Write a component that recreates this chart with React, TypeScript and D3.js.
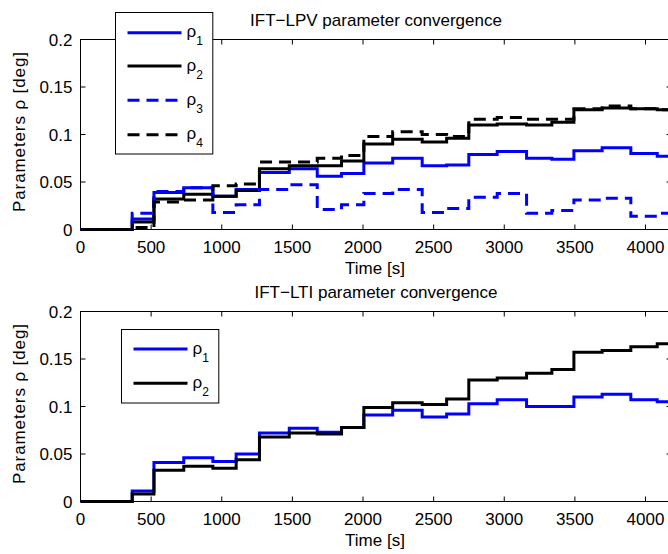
import React from "react";
import * as d3 from "d3";

// switching instants (s), shared by every parameter trace
const stepTimes = [0, 366, 520, 731, 937, 1102, 1267, 1478, 1676, 1848, 2006, 2210, 2419, 2592, 2749, 2950, 3158, 3337, 3493, 3693, 3896, 4083];
const tEnd = 4184;

// IFT-LPV traces
const lpvRho1 = [0, 0.011, 0.039, 0.044, 0.035, 0.042, 0.060, 0.064, 0.056, 0.059, 0.070, 0.075, 0.067, 0.068, 0.079, 0.082, 0.075, 0.074, 0.083, 0.086, 0.080, 0.077];
const lpvRho2 = [0, 0.008, 0.032, 0.037, 0.035, 0.041, 0.064, 0.067, 0.067, 0.072, 0.090, 0.095, 0.092, 0.096, 0.110, 0.111, 0.110, 0.113, 0.126, 0.128, 0.127, 0.126];
const lpvRho3 = [0, 0.017, 0.040, 0.044, 0.018, 0.026, 0.042, 0.047, 0.021, 0.026, 0.038, 0.042, 0.018, 0.022, 0.034, 0.038, 0.017, 0.020, 0.031, 0.033, 0.014, 0.017];
const lpvRho4 = [0, 0.002, 0.029, 0.031, 0.046, 0.048, 0.071, 0.071, 0.075, 0.078, 0.098, 0.103, 0.100, 0.098, 0.116, 0.118, 0.116, 0.116, 0.127, 0.130, 0.127, 0.126];

// IFT-LTI traces
const ltiRho1 = [0, 0.011, 0.041, 0.046, 0.042, 0.050, 0.072, 0.077, 0.073, 0.078, 0.091, 0.096, 0.089, 0.092, 0.103, 0.107, 0.100, 0.100, 0.110, 0.113, 0.107, 0.105];
const ltiRho2 = [0, 0.008, 0.033, 0.037, 0.035, 0.044, 0.068, 0.072, 0.071, 0.078, 0.099, 0.104, 0.102, 0.108, 0.128, 0.130, 0.135, 0.139, 0.157, 0.159, 0.163, 0.166];

const xTicks = [0, 500, 1000, 1500, 2000, 2500, 3000, 3500, 4000];
const yTicks = [0, 0.05, 0.1, 0.15, 0.2];
const yTickLabels = ["0", "0.05", "0.1", "0.15", "0.2"];

const font = "'Liberation Sans', Arial, Helvetica, sans-serif";
const BLUE = "#0000ff";
const LEFT = 80.5;
const RIGHT = 671.5;

const toPoints = (vals: number[]) => {
  const pts: [number, number][] = stepTimes.map((t, i) => [t, vals[i]]);
  pts.push([tEnd, vals[vals.length - 1]]);
  return pts;
};

const Panel = ({ top, bottom, title, series, legend }: any) => {
  const x = d3.scaleLinear().domain([0, tEnd]).range([LEFT, RIGHT]);
  const y = d3.scaleLinear().domain([0, 0.2]).range([bottom, top]);
  const line = d3
    .line<[number, number]>()
    .x((d) => x(d[0]))
    .y((d) => y(d[1]))
    .curve(d3.curveStepAfter);
  const cx = (LEFT + RIGHT) / 2;
  const cy = (top + bottom) / 2;

  return (
    <g fontFamily={font} fontSize={17} fill="#000">
      <rect x={LEFT} y={top} width={RIGHT - LEFT} height={bottom - top} fill="#fff" stroke="#000" strokeWidth={1} />
      {xTicks.map((t) => (
        <g key={"x" + t}>
          <line x1={x(t)} x2={x(t)} y1={bottom} y2={bottom - 5} stroke="#000" />
          <line x1={x(t)} x2={x(t)} y1={top} y2={top + 5} stroke="#000" />
          <text x={x(t)} y={bottom + 23.5} textAnchor="middle">{t}</text>
        </g>
      ))}
      {yTicks.map((v, i) => (
        <g key={"y" + v}>
          <line x1={LEFT} x2={LEFT + 5} y1={y(v)} y2={y(v)} stroke="#000" />
          <line x1={RIGHT} x2={RIGHT - 5} y1={y(v)} y2={y(v)} stroke="#000" />
          <text x={72.5} y={y(v) + 6} textAnchor="end">{yTickLabels[i]}</text>
        </g>
      ))}
      {series.map((s: any, i: number) => (
        <path
          key={i}
          d={line(toPoints(s.values)) || ""}
          fill="none"
          stroke={s.color}
          strokeWidth={3}
          strokeDasharray={s.dashed ? "12 7" : undefined}
        />
      ))}
      <text x={cx} y={top - 14} textAnchor="middle">{title}</text>
      <text x={cx - 1} y={bottom + 44} textAnchor="middle">Time [s]</text>
      <text
        transform={`translate(24.5, ${cy - 2.5}) rotate(-90)`}
        textAnchor="middle"
        textLength={160}
        lengthAdjust="spacing"
      >
        Parameters ρ [deg]
      </text>
      <rect x={legend.x} y={legend.y} width={97.3} height={legend.h} fill="#fff" stroke="#000" strokeWidth={1} />
      {series.map((s: any, i: number) => {
        const ly = legend.rows[i];
        return (
          <g key={"l" + i}>
            <line
              x1={legend.x + 12}
              x2={legend.x + 66}
              y1={ly}
              y2={ly}
              stroke={s.color}
              strokeWidth={3}
              strokeDasharray={s.dashed ? "12 7" : undefined}
            />
            <text x={legend.x + 71} y={ly + 4.5}>
              ρ<tspan fontSize={12} dy={8}>{s.sub}</tspan>
            </text>
          </g>
        );
      })}
    </g>
  );
};

const App = () => {
  const lpvSeries = [
    { values: lpvRho1, color: BLUE, dashed: false, sub: "1" },
    { values: lpvRho2, color: "#000", dashed: false, sub: "2" },
    { values: lpvRho3, color: BLUE, dashed: true, sub: "3" },
    { values: lpvRho4, color: "#000", dashed: true, sub: "4" },
  ];
  const ltiSeries = [
    { values: ltiRho1, color: BLUE, dashed: false, sub: "1" },
    { values: ltiRho2, color: "#000", dashed: false, sub: "2" },
  ];
  return (
    <svg width={668} height={554} style={{ position: "absolute", left: 0, top: 0, background: "#fff" }}>
      <rect width={668} height={554} fill="#fff" />
      <Panel
        top={39.5}
        bottom={229.5}
        title="IFT−LPV parameter convergence"
        series={lpvSeries}
        legend={{ x: 115.5, y: 12.5, h: 141.5, rows: [32.7, 66, 100.3, 134.7] }}
      />
      <Panel
        top={311.5}
        bottom={501.5}
        title="IFT−LTI parameter convergence"
        series={ltiSeries}
        legend={{ x: 121.5, y: 329.5, h: 73.5, rows: [349, 383.3] }}
      />
    </svg>
  );
};

export default App;
